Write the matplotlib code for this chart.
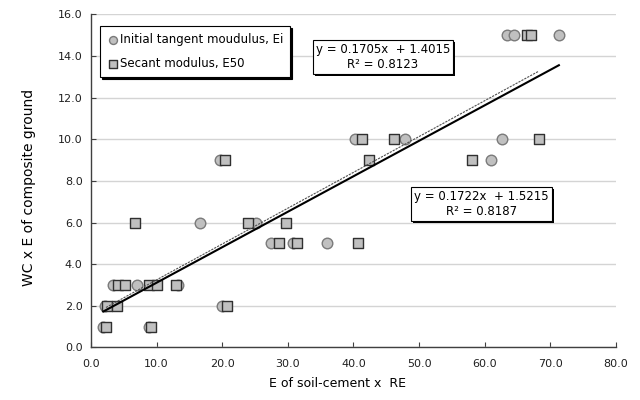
import matplotlib
matplotlib.use("Agg")
import matplotlib.pyplot as plt
import matplotlib.transforms as mtransforms
from matplotlib.patches import Rectangle
import numpy as np

# Data
ei_x = [63.4, 64.5, 71.3, 40.2, 47.9, 62.7, 19.7, 61.0, 16.7, 25.2,
        27.5, 30.8, 36.0, 3.4, 7.0, 13.3, 2.2, 19.9, 1.9, 8.8]
ei_y = [15, 15, 15, 10, 10, 10, 9, 9, 6, 6,
        5, 5, 5, 3, 3, 3, 2, 2, 1, 1]
e50_x = [66.5, 67.0, 41.3, 46.2, 68.2, 20.4, 42.4, 58.1, 6.7, 24.0, 29.8,
         28.6, 31.4, 40.7, 4.1, 5.2, 8.9, 10.1, 13.0, 2.5, 4.0, 20.8, 2.3, 9.2]
e50_y = [15, 15, 10, 10, 10, 9, 9, 9, 6, 6, 6,
         5, 5, 5, 3, 3, 3, 3, 3, 2, 2, 2, 1, 1]

ei_fit = (0.1705, 1.4015, 0.8123)
e50_fit = (0.1722, 1.5215, 0.8187)

x_ticks = [0, 10, 20, 30, 40, 50, 60, 70, 80]
y_ticks = [0, 2, 4, 6, 8, 10, 12, 14, 16]

plt.rcParams['font.family'] = ['DejaVu Sans']

fig = plt.figure(figsize=(6.4, 4.0), dpi=100)
ax = fig.add_axes([0.142, 0.1315, 0.8205, 0.8325])

ax.set_xlim(0, 80)
ax.set_ylim(0, 16)
ax.set_xticks(x_ticks)
ax.set_yticks(y_ticks)
ax.set_xticklabels([f"{v:.1f}" for v in x_ticks])
ax.set_yticklabels([f"{v:.1f}" for v in y_ticks])
ax.tick_params(direction='in', length=3.5, width=0.8, colors='#404040',
               labelsize=8, labelcolor='#202020', pad=6)
ax.tick_params(axis='x', pad=8)
ax.grid(axis='y', color='#d4d4d4', linewidth=1.0)
ax.set_axisbelow(True)
for s in ['top', 'right']:
    ax.spines[s].set_visible(False)
for s in ['left', 'bottom']:
    ax.spines[s].set_color('#404040')
    ax.spines[s].set_linewidth(1.0)

ax.scatter(ei_x, ei_y, s=58, marker='o', facecolor='#c0c0c0',
           edgecolor='#7a7a7a', linewidth=1.0, zorder=3,
           label='Initial tangent moudulus, Ei')
ax.scatter(e50_x, e50_y, s=58, marker='s', facecolor='#c0c0c0',
           edgecolor='#303030', linewidth=1.0, zorder=4,
           label='Secant modulus, E50')

# trend lines
xs = np.array([min(ei_x), max(ei_x)])
ax.plot(xs, ei_fit[0] * xs + ei_fit[1], color='black', linewidth=1.5, zorder=5)
xs2 = np.array([min(e50_x), max(e50_x)])
ax.plot(xs2, e50_fit[0] * xs2 + e50_fit[1], color='#505050', linewidth=0.8,
        linestyle=(0, (2, 1)), zorder=5)

leg = ax.legend(loc='upper left', bbox_to_anchor=(0.017, 0.965), frameon=True,
                fancybox=False, shadow={'color': 'black', 'alpha': 1.0, 'ox': 1.5, 'oy': -1.5},
                edgecolor='black', fontsize=8.5, handletextpad=0.1,
                handlelength=1.0, borderpad=0.6, labelspacing=0.9,
                borderaxespad=0.0, markerscale=0.75)
leg.get_frame().set_linewidth(0.8)

eq_texts = []
def eqbox(x, y, fit):
    txt = f"y = {fit[0]:.4f}x  + {fit[1]:.4f}\nR\u00b2 = {fit[2]:.4f}"
    t = ax.text(x, y, txt, transform=ax.transAxes, fontsize=8.5,
                ha='center', va='center', multialignment='center', zorder=7,
                bbox=dict(boxstyle='square,pad=0.25', facecolor='white',
                          edgecolor='black', linewidth=0.8))
    eq_texts.append(t)

eqbox(0.556, 0.8715, ei_fit)
eqbox(0.7437, 0.4315, e50_fit)

ax.set_xlabel("E of soil-cement x  RE", fontsize=9, labelpad=9)
ax.xaxis.set_label_coords(0.47, -0.09)
ax.set_ylabel("WC x E of composite ground", fontsize=10)
ax.yaxis.set_label_coords(-0.105, 0.48)

# shadows behind the equation boxes
fig.canvas.draw()
for t in eq_texts:
    bb = t.get_bbox_patch().get_window_extent()
    sh = Rectangle((bb.x0 + 2, bb.y0 - 2), bb.width, bb.height,
                   transform=mtransforms.IdentityTransform(),
                   facecolor='black', edgecolor='none', zorder=6)
    ax.add_artist(sh)

fig.savefig("out.png", dpi=100)
